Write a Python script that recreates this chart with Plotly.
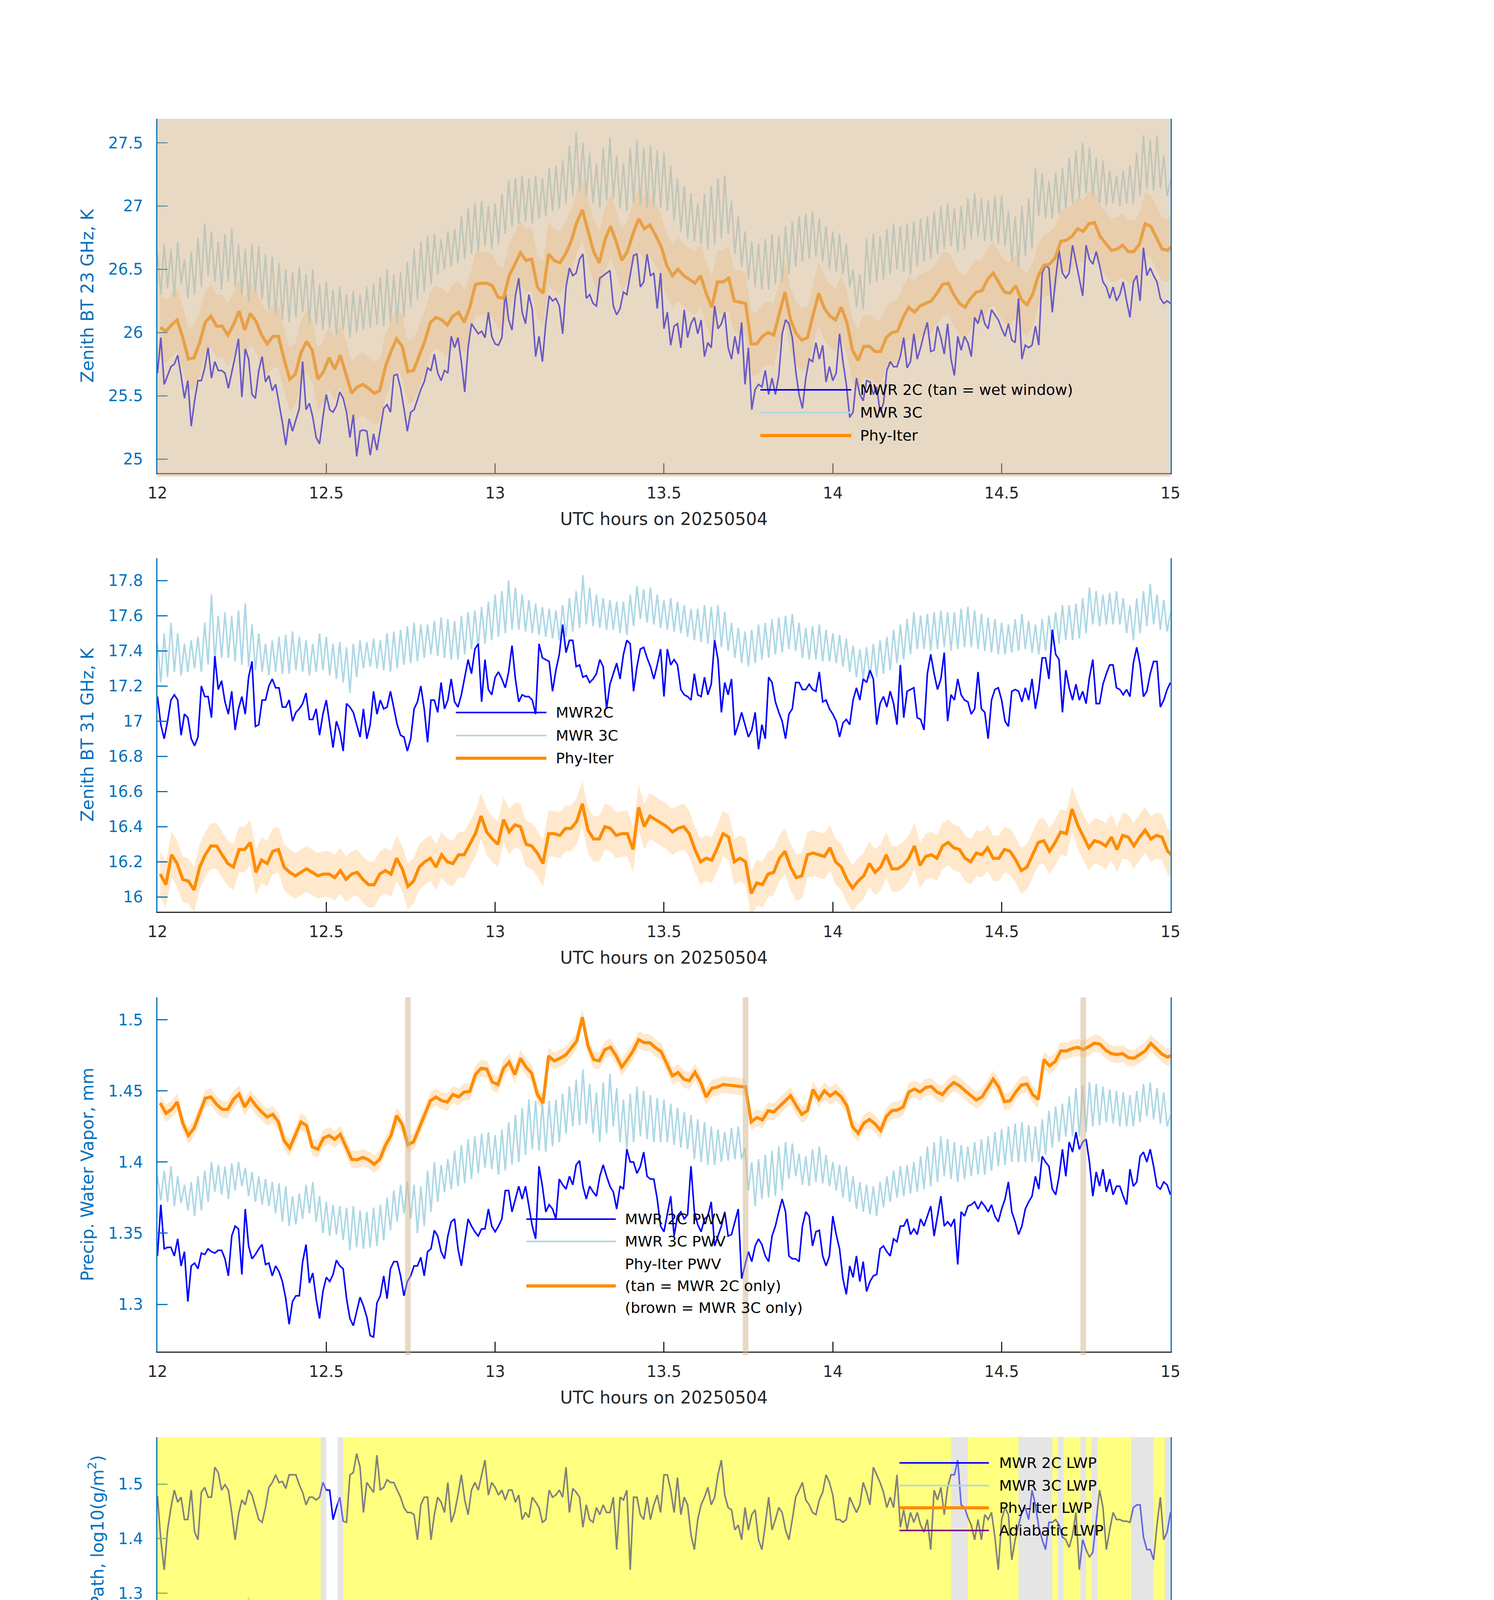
import numpy as np
import plotly.graph_objects as go

# ---------------------------------------------------------------------------
# MWR 2C / MWR 3C against the Phy-Iter retrieval, 2025-05-04, 12-15 UTC.
# Five stacked panels: 23 GHz BT, 31 GHz BT, PWV, log10 LWP and the Phy-Iter
# data-quality flag. Overlays (tan / yellow / grey) come from the DQ record.
# ---------------------------------------------------------------------------

T_START = 12.0        # UTC hours
MWR_STEP = 0.01       # MWR 2C / 3C sample spacing, hours (36 s)
PHY_STEP = 1 / 60     # Phy-Iter retrieval spacing, hours (centred on half minute)

X_TICKS = [12, 12.5, 13, 13.5, 14, 14.5, 15]
X_TICK_TEXT = ["12", "12.5", "13", "13.5", "14", "14.5", "15"]

# --- panel 1: zenith BT 23 GHz, K -------------------------------------------
BT23_2C = [
    25.68, 25.96, 25.59, 25.66, 25.73, 25.75, 25.82, 25.66, 25.48, 25.62, 25.26, 25.46,
    25.62, 25.62, 25.72, 25.88, 25.64, 25.77, 25.70, 25.70, 25.68, 25.56, 25.68, 25.81,
    25.95, 25.49, 25.87, 25.79, 25.51, 25.48, 25.70, 25.81, 25.61, 25.66, 25.54,
    25.59, 25.44, 25.29, 25.11, 25.32, 25.22, 25.31, 25.40, 25.77, 25.39, 25.44, 25.33,
    25.17, 25.12, 25.33, 25.51, 25.39, 25.37, 25.42, 25.53, 25.48, 25.37, 25.17,
    25.35, 25.02, 25.22, 25.23, 25.22, 25.03, 25.20, 25.07, 25.24, 25.40, 25.43, 25.37,
    25.66, 25.67, 25.56, 25.40, 25.22, 25.37, 25.39, 25.47, 25.55, 25.61, 25.72,
    25.70, 25.83, 25.68, 25.62, 25.70, 25.68, 25.97, 25.88, 25.96, 25.77, 25.53, 25.88,
    26.07, 26.03, 25.99, 26.01, 25.96, 26.16, 25.97, 25.91, 25.90, 25.96, 26.32,
    26.10, 26.02, 26.29, 26.43, 26.16, 26.07, 26.30, 26.18, 25.81, 25.97, 25.77, 26.07,
    26.29, 26.25, 26.27, 26.21, 25.99, 26.36, 26.51, 26.45, 26.47, 26.58, 26.62,
    26.27, 26.30, 26.23, 26.21, 26.43, 26.45, 26.47, 26.49, 26.21, 26.14, 26.19, 26.32,
    26.30, 26.45, 26.61, 26.62, 26.36, 26.40, 26.62, 26.45, 26.47, 26.19, 26.47,
    26.03, 26.16, 25.90, 26.05, 26.07, 25.88, 26.18, 25.96, 26.07, 26.12, 25.99, 26.10,
    25.81, 25.92, 25.88, 26.21, 26.03, 26.07, 26.16, 25.88, 25.79, 25.97, 25.83,
    26.08, 25.59, 25.88, 25.39, 25.55, 25.59, 25.57, 25.70, 25.51, 25.64, 25.51, 25.66,
    25.99, 26.10, 26.07, 25.96, 25.70, 25.51, 25.40, 25.64, 25.79, 25.77, 25.92,
    25.79, 25.90, 25.61, 25.73, 25.62, 25.68, 25.99, 25.77, 25.59, 25.33, 25.37, 25.64,
    25.51, 25.46, 25.62, 25.61, 25.51, 25.57, 25.37, 25.44, 25.70, 25.77, 25.73,
    25.73, 25.81, 25.96, 25.72, 25.77, 25.99, 25.79, 25.88, 25.99, 26.08, 25.85, 25.86,
    26.05, 25.96, 25.83, 26.07, 25.79, 25.66, 25.97, 25.86, 25.97, 25.92, 25.81,
    26.12, 26.07, 26.18, 26.07, 26.03, 26.18, 26.14, 26.10, 26.03, 25.97, 26.07, 25.94,
    25.92, 26.27, 25.79, 25.90, 25.88, 25.90, 26.05, 25.90, 26.47, 26.53, 26.51,
    26.16, 26.43, 26.65, 26.47, 26.43, 26.47, 26.69, 26.56, 26.43, 26.29, 26.69, 26.58,
    26.54, 26.64, 26.53, 26.40, 26.36, 26.27, 26.36, 26.25, 26.30, 26.40, 26.25,
    26.12, 26.40, 26.45, 26.25, 26.67, 26.45, 26.51, 26.45, 26.40, 26.27, 26.23, 26.25,
    26.23,
]
BT23_3C = [
    26.62, 26.30, 26.70, 26.35, 26.66, 26.28, 26.72, 26.38, 26.58, 26.27,
    26.64, 26.30, 26.75, 26.36, 26.86, 26.45, 26.80, 26.40, 26.72, 26.34,
    26.78, 26.40, 26.82, 26.36, 26.70, 26.30, 26.66, 26.24, 26.70, 26.32,
    26.68, 26.26, 26.62, 26.18, 26.60, 26.14, 26.55, 26.10, 26.50, 26.08,
    26.48, 26.12, 26.52, 26.16, 26.46, 26.08, 26.50, 26.06, 26.38, 26.02,
    26.40, 26.04, 26.34, 25.98, 26.36, 26.02, 26.30, 25.96, 26.33, 26.00,
    26.30, 26.02, 26.36, 26.04, 26.38, 26.06, 26.44, 26.05, 26.50, 26.08,
    26.46, 26.08, 26.48, 26.12, 26.56, 26.20, 26.66, 26.26, 26.72, 26.32,
    26.76, 26.38, 26.78, 26.46, 26.74, 26.50, 26.80, 26.52, 26.82, 26.55,
    26.92, 26.58, 26.98, 26.62, 27.02, 26.64, 27.04, 26.68, 27.00, 26.66,
    27.02, 26.70, 27.10, 26.78, 27.20, 26.84, 27.22, 26.86, 27.24, 26.88,
    27.22, 26.86, 27.24, 26.90, 27.22, 26.92, 27.30, 26.96, 27.32, 26.98,
    27.36, 27.02, 27.48, 27.08, 27.58, 27.12, 27.50, 27.08, 27.42, 27.02,
    27.34, 26.98, 27.46, 27.04, 27.54, 27.06, 27.40, 26.98, 27.34, 26.96,
    27.46, 27.02, 27.52, 27.00, 27.46, 26.98, 27.48, 27.00, 27.44, 26.98,
    27.42, 26.96, 27.32, 26.88, 27.22, 26.80, 27.16, 26.74, 27.10, 26.72,
    27.02, 26.70, 27.10, 26.66, 27.16, 26.70, 27.22, 26.74, 27.24, 26.78,
    27.04, 26.62, 26.92, 26.52, 26.80, 26.42, 26.72, 26.36, 26.70, 26.34,
    26.74, 26.34, 26.78, 26.38, 26.76, 26.40, 26.84, 26.46, 26.88, 26.52,
    26.92, 26.56, 26.94, 26.58, 26.96, 26.60, 26.90, 26.56, 26.84, 26.50,
    26.80, 26.48, 26.78, 26.46, 26.70, 26.36, 26.50, 26.20, 26.46, 26.18,
    26.74, 26.38, 26.78, 26.40, 26.76, 26.42, 26.82, 26.46, 26.86, 26.50,
    26.84, 26.48, 26.86, 26.46, 26.88, 26.52, 26.90, 26.56, 26.92, 26.58,
    26.96, 26.62, 27.00, 26.66, 27.02, 26.68, 26.98, 26.64, 27.00, 26.66,
    27.06, 26.74, 27.10, 26.76, 27.06, 26.72, 27.04, 26.72, 27.08, 26.70,
    27.08, 26.68, 26.96, 26.56, 26.92, 26.52, 27.00, 26.60, 27.06, 26.66,
    27.30, 26.92, 27.26, 26.90, 27.20, 26.90, 27.26, 26.94, 27.30, 26.98,
    27.38, 27.02, 27.44, 27.06, 27.50, 27.10, 27.46, 27.08, 27.38, 27.02,
    27.36, 27.00, 27.28, 27.02, 27.24, 27.00, 27.28, 27.02, 27.32, 27.02,
    27.42, 27.08, 27.56, 27.14, 27.52, 27.12, 27.56, 27.14, 27.40, 27.08,
    27.20,
]
BT23_PHY = [
    26.04, 26.01, 26.06, 26.10, 25.96, 25.79, 25.80, 25.92, 26.08, 26.13,
    26.05, 26.05, 25.98, 26.06, 26.17, 26.02, 26.15, 26.09, 25.98, 25.91,
    25.97, 25.97, 25.79, 25.63, 25.67, 25.84, 25.93, 25.86, 25.63, 25.69,
    25.80, 25.71, 25.82, 25.68, 25.52, 25.57, 25.59, 25.56, 25.52, 25.54,
    25.73, 25.85, 25.95, 25.89, 25.69, 25.70, 25.81, 25.93, 26.08, 26.12,
    26.10, 26.06, 26.13, 26.16, 26.08, 26.20, 26.38, 26.39, 26.39, 26.37,
    26.28, 26.27, 26.45, 26.54, 26.63, 26.57, 26.58, 26.36, 26.31, 26.62,
    26.57, 26.55, 26.62, 26.72, 26.87, 26.97, 26.80, 26.64, 26.55, 26.73,
    26.84, 26.72, 26.57, 26.64, 26.78, 26.90, 26.82, 26.85, 26.77, 26.68,
    26.53, 26.45, 26.50, 26.45, 26.42, 26.39, 26.45, 26.31, 26.20, 26.40,
    26.40, 26.43, 26.25, 26.24, 26.23, 25.91, 25.91, 25.97, 26.00, 25.98,
    26.16, 26.32, 26.10, 25.99, 25.94, 25.96, 26.14, 26.31, 26.19, 26.13,
    26.10, 26.20, 26.08, 25.86, 25.78, 25.89, 25.89, 25.85, 25.85, 25.96,
    26.00, 26.01, 26.12, 26.20, 26.16, 26.21, 26.23, 26.25, 26.31, 26.38,
    26.39, 26.30, 26.23, 26.20, 26.27, 26.32, 26.33, 26.42, 26.47, 26.39,
    26.32, 26.31, 26.37, 26.26, 26.22, 26.30, 26.45, 26.53, 26.54, 26.59,
    26.72, 26.73, 26.76, 26.82, 26.80, 26.86, 26.87, 26.76, 26.70, 26.65,
    26.66, 26.69, 26.64, 26.64, 26.70, 26.86, 26.84, 26.75, 26.66, 26.65,
    26.69,
]
BT23_PHY_UNC = 0.25

# --- panel 2: zenith BT 31 GHz, K -------------------------------------------
BT31_2C = [
    17.14, 16.98, 16.90, 17.00, 17.12, 17.15, 17.12, 16.92, 17.04, 17.02, 16.90, 16.86,
    16.91, 17.20, 17.14, 17.14, 17.02, 17.37, 17.18, 17.23, 17.11, 17.04, 17.17, 16.95,
    17.07, 17.14, 17.04, 17.25, 17.34, 16.97, 16.98, 17.12, 17.12, 17.20, 17.24, 17.19,
    17.19, 17.08, 17.08, 17.12, 17.00, 17.05, 17.07, 17.10, 17.16, 17.01, 17.01, 17.07,
    16.92, 17.04, 17.12, 16.98, 16.85, 17.00, 16.94, 16.83, 17.10, 17.08, 17.05, 16.98,
    16.91, 17.07, 16.90, 16.98, 17.17, 17.04, 17.12, 17.07, 17.08, 17.17, 17.08, 16.98,
    16.92, 16.91, 16.83, 16.90, 17.07, 17.11, 17.20, 17.07, 16.88, 17.12, 17.12, 17.05,
    17.22, 17.07, 17.12, 17.24, 17.11, 17.08, 17.15, 17.25, 17.35, 17.27, 17.41, 17.44,
    17.11, 17.35, 17.18, 17.15, 17.25, 17.28, 17.24, 17.19, 17.28, 17.43, 17.24, 17.11,
    17.15, 17.14, 17.14, 17.12, 17.04, 17.44, 17.36, 17.35, 17.34, 17.17, 17.29, 17.38,
    17.55, 17.39, 17.46, 17.46, 17.31, 17.32, 17.25, 17.26, 17.22, 17.24, 17.27, 17.35,
    17.31, 17.07, 17.21, 17.27, 17.33, 17.24, 17.38, 17.46, 17.44, 17.17, 17.31, 17.41,
    17.42, 17.36, 17.31, 17.24, 17.32, 17.41, 17.14, 17.41, 17.32, 17.35, 17.32, 17.18,
    17.15, 17.14, 17.12, 17.27, 17.15, 17.14, 17.25, 17.15, 17.21, 17.46, 17.35, 17.05,
    17.22, 17.15, 17.24, 16.92, 16.98, 17.05, 16.98, 16.91, 16.95, 17.05, 16.84, 16.98,
    16.90, 17.25, 17.22, 17.11, 17.05, 17.00, 16.90, 17.04, 17.07, 17.22, 17.22, 17.18,
    17.18, 17.21, 17.18, 17.17, 17.28, 17.11, 17.12, 17.07, 17.04, 17.00, 16.91, 16.99,
    17.01, 16.98, 17.12, 17.19, 17.12, 17.24, 17.22, 17.29, 17.24, 16.98, 17.10, 17.14,
    17.08, 17.17, 17.10, 16.98, 17.32, 17.02, 17.17, 17.18, 17.19, 17.02, 17.01, 16.95,
    17.27, 17.38, 17.27, 17.18, 17.24, 17.39, 17.00, 17.15, 17.12, 17.24, 17.15, 17.12,
    17.11, 17.04, 17.07, 17.28, 17.07, 17.05, 16.90, 17.12, 17.18, 17.19, 17.12, 17.00,
    16.97, 17.17, 17.18, 17.17, 17.11, 17.19, 17.12, 17.24, 17.07, 17.18, 17.36, 17.36,
    17.24, 17.52, 17.38, 17.35, 17.05, 17.29, 17.19, 17.12, 17.21, 17.12, 17.17, 17.10,
    17.25, 17.35, 17.10, 17.10, 17.21, 17.27, 17.32, 17.32, 17.19, 17.18, 17.15, 17.18,
    17.14, 17.33, 17.42, 17.32, 17.14, 17.17, 17.27, 17.34, 17.34, 17.08, 17.12, 17.18,
    17.22,
]
BT31_3C = [
    17.44, 17.22, 17.50, 17.25, 17.56, 17.28, 17.50, 17.26, 17.44, 17.28,
    17.46, 17.30, 17.48, 17.28, 17.56, 17.32, 17.72, 17.34, 17.60, 17.36,
    17.62, 17.36, 17.60, 17.34, 17.63, 17.32, 17.67, 17.31, 17.55, 17.29,
    17.50, 17.28, 17.44, 17.26, 17.46, 17.28, 17.48, 17.27, 17.49, 17.27,
    17.51, 17.29, 17.48, 17.28, 17.46, 17.26, 17.44, 17.28, 17.50, 17.29,
    17.48, 17.26, 17.44, 17.24, 17.45, 17.22, 17.42, 17.16, 17.44, 17.25,
    17.46, 17.30, 17.45, 17.31, 17.47, 17.30, 17.46, 17.29, 17.50, 17.28,
    17.51, 17.30, 17.52, 17.32, 17.54, 17.33, 17.56, 17.34, 17.55, 17.36,
    17.55, 17.38, 17.57, 17.37, 17.59, 17.36, 17.58, 17.35, 17.57, 17.35,
    17.60, 17.38, 17.62, 17.41, 17.63, 17.42, 17.65, 17.44, 17.68, 17.46,
    17.72, 17.48, 17.74, 17.50, 17.80, 17.52, 17.76, 17.52, 17.72, 17.51,
    17.69, 17.50, 17.67, 17.49, 17.65, 17.48, 17.64, 17.47, 17.63, 17.46,
    17.66, 17.48, 17.70, 17.51, 17.74, 17.53, 17.83, 17.55, 17.76, 17.54,
    17.72, 17.53, 17.70, 17.52, 17.69, 17.52, 17.68, 17.50, 17.68, 17.49,
    17.72, 17.54, 17.77, 17.58, 17.75, 17.56, 17.76, 17.55, 17.72, 17.53,
    17.69, 17.52, 17.70, 17.51, 17.68, 17.50, 17.66, 17.48, 17.64, 17.46,
    17.64, 17.45, 17.66, 17.44, 17.65, 17.43, 17.66, 17.42, 17.62, 17.40,
    17.56, 17.36, 17.53, 17.33, 17.51, 17.31, 17.52, 17.33, 17.55, 17.35,
    17.56, 17.36, 17.58, 17.38, 17.59, 17.39, 17.60, 17.41, 17.61, 17.40,
    17.56, 17.36, 17.53, 17.35, 17.54, 17.35, 17.55, 17.34, 17.52, 17.34,
    17.50, 17.33, 17.49, 17.31, 17.47, 17.28, 17.43, 17.25, 17.41, 17.24,
    17.42, 17.24, 17.44, 17.25, 17.46, 17.27, 17.48, 17.29, 17.52, 17.33,
    17.55, 17.35, 17.58, 17.38, 17.62, 17.41, 17.60, 17.41, 17.61, 17.40,
    17.62, 17.41, 17.63, 17.42, 17.62, 17.40, 17.62, 17.41, 17.64, 17.42,
    17.65, 17.42, 17.63, 17.41, 17.61, 17.40, 17.59, 17.39, 17.58, 17.38,
    17.56, 17.38, 17.55, 17.39, 17.58, 17.40, 17.61, 17.41, 17.57, 17.39,
    17.55, 17.38, 17.58, 17.40, 17.60, 17.43, 17.62, 17.44, 17.66, 17.46,
    17.66, 17.46, 17.67, 17.47, 17.70, 17.50, 17.76, 17.55, 17.74, 17.54,
    17.72, 17.55, 17.73, 17.55, 17.74, 17.55, 17.70, 17.50, 17.66, 17.46,
    17.70, 17.50, 17.74, 17.54, 17.78, 17.55, 17.72, 17.52, 17.69, 17.51,
    17.62,
]
BT31_PHY = [
    16.13, 16.07, 16.24, 16.19, 16.10, 16.09, 16.04, 16.17, 16.24, 16.29,
    16.29, 16.24, 16.19, 16.17, 16.27, 16.27, 16.31, 16.14, 16.21, 16.19,
    16.26, 16.27, 16.17, 16.14, 16.12, 16.14, 16.16, 16.14, 16.12, 16.13,
    16.13, 16.11, 16.15, 16.10, 16.13, 16.14, 16.10, 16.07, 16.07, 16.13,
    16.15, 16.13, 16.22, 16.16, 16.06, 16.09, 16.17, 16.20, 16.22, 16.17,
    16.24, 16.20, 16.19, 16.24, 16.24, 16.30, 16.36, 16.46, 16.37, 16.33,
    16.30, 16.44, 16.37, 16.41, 16.40, 16.30, 16.29, 16.25, 16.19, 16.36,
    16.36, 16.35, 16.39, 16.39, 16.43, 16.53, 16.38, 16.33, 16.33, 16.40,
    16.39, 16.35, 16.36, 16.36, 16.27, 16.51, 16.40, 16.46, 16.44, 16.42,
    16.40, 16.37, 16.39, 16.40, 16.36, 16.27, 16.20, 16.22, 16.21, 16.28,
    16.36, 16.34, 16.20, 16.22, 16.20, 16.02, 16.08, 16.07, 16.13, 16.14,
    16.22, 16.26, 16.17, 16.11, 16.12, 16.24, 16.25, 16.24, 16.23, 16.28,
    16.20, 16.17, 16.10, 16.05, 16.09, 16.12, 16.19, 16.14, 16.17, 16.24,
    16.16, 16.16, 16.18, 16.22, 16.29, 16.18, 16.23, 16.24, 16.22, 16.29,
    16.31, 16.28, 16.27, 16.22, 16.20, 16.25, 16.24, 16.28, 16.22, 16.22,
    16.27, 16.26, 16.21, 16.15, 16.17, 16.24, 16.31, 16.32, 16.26, 16.31,
    16.37, 16.36, 16.50, 16.41, 16.34, 16.28, 16.32, 16.31, 16.29, 16.34,
    16.27, 16.35, 16.34, 16.29, 16.34, 16.38, 16.33, 16.35, 16.34, 16.26,
    16.23,
]
BT31_PHY_UNC = 0.13

# --- panel 3: precipitable water vapour, mm ---------------------------------
PWV_2C = [
    1.334, 1.370, 1.339, 1.340, 1.340, 1.334, 1.346, 1.327, 1.337, 1.302, 1.327, 1.329,
    1.325, 1.336, 1.335, 1.339, 1.337, 1.336, 1.338, 1.338, 1.332, 1.320, 1.348, 1.355,
    1.353, 1.321, 1.367, 1.341, 1.332, 1.335, 1.339, 1.342, 1.328, 1.329, 1.320, 1.327,
    1.323, 1.316, 1.304, 1.286, 1.302, 1.306, 1.306, 1.330, 1.342, 1.315, 1.322, 1.304,
    1.290, 1.309, 1.319, 1.316, 1.321, 1.331, 1.327, 1.325, 1.304, 1.290, 1.285, 1.295,
    1.305, 1.299, 1.291, 1.278, 1.277, 1.301, 1.306, 1.320, 1.304, 1.325, 1.330, 1.330,
    1.320, 1.306, 1.316, 1.320, 1.327, 1.327, 1.333, 1.320, 1.337, 1.339, 1.352, 1.348,
    1.337, 1.332, 1.348, 1.358, 1.360, 1.339, 1.327, 1.344, 1.360, 1.355, 1.351, 1.348,
    1.353, 1.353, 1.367, 1.355, 1.351, 1.355, 1.360, 1.380, 1.380, 1.365, 1.374, 1.383,
    1.374, 1.383, 1.369, 1.355, 1.346, 1.397, 1.383, 1.365, 1.370, 1.367, 1.360, 1.388,
    1.384, 1.381, 1.390, 1.384, 1.398, 1.401, 1.383, 1.374, 1.383, 1.379, 1.376, 1.390,
    1.398, 1.390, 1.383, 1.379, 1.367, 1.383, 1.381, 1.409, 1.400, 1.400, 1.392, 1.397,
    1.407, 1.390, 1.388, 1.388, 1.374, 1.355, 1.351, 1.363, 1.376, 1.348, 1.362, 1.365,
    1.360, 1.363, 1.397, 1.365, 1.356, 1.351, 1.360, 1.362, 1.372, 1.341, 1.348, 1.355,
    1.365, 1.348, 1.349, 1.358, 1.367, 1.318, 1.327, 1.337, 1.330, 1.341, 1.346, 1.342,
    1.334, 1.330, 1.348, 1.355, 1.365, 1.374, 1.365, 1.334, 1.332, 1.332, 1.330, 1.355,
    1.365, 1.362, 1.341, 1.351, 1.352, 1.334, 1.327, 1.334, 1.362, 1.349, 1.339, 1.318,
    1.307, 1.327, 1.319, 1.334, 1.316, 1.330, 1.309, 1.316, 1.320, 1.321, 1.339, 1.341,
    1.337, 1.334, 1.346, 1.344, 1.355, 1.355, 1.360, 1.349, 1.353, 1.349, 1.360, 1.355,
    1.362, 1.369, 1.348, 1.362, 1.376, 1.355, 1.358, 1.355, 1.360, 1.328, 1.365, 1.362,
    1.369, 1.370, 1.372, 1.367, 1.372, 1.369, 1.365, 1.370, 1.362, 1.358, 1.367, 1.374,
    1.386, 1.365, 1.358, 1.349, 1.355, 1.367, 1.372, 1.376, 1.390, 1.381, 1.404, 1.400,
    1.397, 1.381, 1.377, 1.390, 1.409, 1.390, 1.414, 1.407, 1.421, 1.409, 1.414, 1.416,
    1.400, 1.376, 1.393, 1.383, 1.395, 1.379, 1.388, 1.377, 1.383, 1.383, 1.376, 1.370,
    1.395, 1.383, 1.386, 1.404, 1.407, 1.400, 1.409, 1.397, 1.383, 1.381, 1.386, 1.384,
    1.377,
]
PWV_3C = [
    1.390, 1.373, 1.394, 1.372, 1.397, 1.369, 1.390, 1.371, 1.384, 1.366,
    1.386, 1.362, 1.390, 1.366, 1.394, 1.372, 1.400, 1.379, 1.398, 1.377,
    1.397, 1.374, 1.399, 1.380, 1.400, 1.383, 1.396, 1.376, 1.393, 1.372,
    1.390, 1.370, 1.388, 1.369, 1.386, 1.364, 1.385, 1.358, 1.383, 1.355,
    1.376, 1.356, 1.378, 1.360, 1.384, 1.364, 1.386, 1.358, 1.376, 1.350,
    1.372, 1.348, 1.370, 1.349, 1.369, 1.345, 1.368, 1.338, 1.369, 1.340,
    1.366, 1.339, 1.365, 1.340, 1.368, 1.341, 1.370, 1.345, 1.375, 1.352,
    1.380, 1.358, 1.384, 1.364, 1.386, 1.360, 1.384, 1.350, 1.383, 1.355,
    1.394, 1.365, 1.400, 1.372, 1.398, 1.379, 1.402, 1.381, 1.408, 1.383,
    1.412, 1.385, 1.416, 1.388, 1.418, 1.392, 1.420, 1.396, 1.421, 1.395,
    1.419, 1.391, 1.423, 1.394, 1.428, 1.398, 1.433, 1.400, 1.438, 1.405,
    1.444, 1.409, 1.443, 1.408, 1.442, 1.407, 1.443, 1.411, 1.444, 1.414,
    1.448, 1.420, 1.453, 1.425, 1.458, 1.426, 1.465, 1.427, 1.455, 1.420,
    1.449, 1.414, 1.456, 1.420, 1.462, 1.425, 1.452, 1.414, 1.444, 1.409,
    1.448, 1.414, 1.453, 1.418, 1.450, 1.416, 1.447, 1.414, 1.445, 1.414,
    1.444, 1.414, 1.441, 1.412, 1.438, 1.410, 1.435, 1.409, 1.433, 1.402,
    1.430, 1.400, 1.428, 1.398, 1.425, 1.398, 1.423, 1.400, 1.421, 1.401,
    1.424, 1.402, 1.425, 1.402, 1.410, 1.380, 1.400, 1.369, 1.402, 1.374,
    1.405, 1.375, 1.408, 1.376, 1.411, 1.380, 1.414, 1.388, 1.413, 1.390,
    1.406, 1.384, 1.404, 1.383, 1.409, 1.386, 1.411, 1.385, 1.405, 1.383,
    1.400, 1.380, 1.398, 1.375, 1.397, 1.372, 1.390, 1.367, 1.386, 1.365,
    1.384, 1.363, 1.383, 1.362, 1.386, 1.368, 1.390, 1.372, 1.394, 1.375,
    1.397, 1.376, 1.398, 1.378, 1.400, 1.379, 1.404, 1.381, 1.411, 1.383,
    1.414, 1.386, 1.418, 1.390, 1.416, 1.388, 1.414, 1.386, 1.412, 1.388,
    1.411, 1.390, 1.414, 1.391, 1.416, 1.391, 1.418, 1.394, 1.421, 1.397,
    1.423, 1.398, 1.425, 1.400, 1.427, 1.400, 1.428, 1.400, 1.426, 1.400,
    1.425, 1.400, 1.430, 1.405, 1.436, 1.410, 1.439, 1.414, 1.441, 1.418,
    1.446, 1.418, 1.452, 1.418, 1.454, 1.421, 1.456, 1.425, 1.455, 1.426,
    1.453, 1.428, 1.451, 1.427, 1.450, 1.425, 1.449, 1.425, 1.447, 1.425,
    1.450, 1.428, 1.455, 1.432, 1.456, 1.430, 1.452, 1.427, 1.449, 1.425,
    1.433,
]
PWV_PHY = [
    1.4414, 1.4343, 1.4370, 1.4422, 1.4273, 1.4186, 1.4238, 1.4343, 1.4448, 1.4457,
    1.4405, 1.4370, 1.4370, 1.4440, 1.4478, 1.4387, 1.4448, 1.4396, 1.4352, 1.4317,
    1.4335, 1.4282, 1.4151, 1.4098, 1.4186, 1.4282, 1.4256, 1.4107, 1.4090, 1.4168,
    1.4186, 1.4160, 1.4195, 1.4107, 1.4019, 1.4016, 1.4033, 1.4016, 1.3984, 1.4019,
    1.4116, 1.4186, 1.4326, 1.4264, 1.4121, 1.4142, 1.4238, 1.4335, 1.4431, 1.4457,
    1.4431, 1.4422, 1.4475, 1.4457, 1.4492, 1.4496, 1.4615, 1.4659, 1.4654, 1.4562,
    1.4545, 1.4659, 1.4702, 1.4615, 1.4729, 1.4667, 1.4624, 1.4475, 1.4414, 1.4746,
    1.4711, 1.4729, 1.4751, 1.4799, 1.4851, 1.5017, 1.4816, 1.4720, 1.4711, 1.4790,
    1.4807, 1.4746, 1.4667, 1.4720, 1.4781, 1.4860, 1.4839, 1.4839, 1.4803, 1.4776,
    1.4694, 1.4606, 1.4629, 1.4583, 1.4571, 1.4632, 1.4562, 1.4457, 1.4518, 1.4527,
    1.4545, 1.4541, 1.4536, 1.4531, 1.4527, 1.4282, 1.4313, 1.4296, 1.4361, 1.4352,
    1.4391, 1.4431, 1.4466, 1.4396, 1.4335, 1.4361, 1.4510, 1.4440, 1.4501, 1.4464,
    1.4492, 1.4457, 1.4396, 1.4247, 1.4203, 1.4273, 1.4299, 1.4268, 1.4221, 1.4320,
    1.4361, 1.4366, 1.4387, 1.4492, 1.4513, 1.4492, 1.4524, 1.4531, 1.4492, 1.4475,
    1.4524, 1.4559, 1.4536, 1.4501, 1.4466, 1.4436, 1.4457, 1.4518, 1.4583, 1.4527,
    1.4424, 1.4431, 1.4492, 1.4541, 1.4548, 1.4475, 1.4440, 1.4720, 1.4676, 1.4706,
    1.4781, 1.4781, 1.4797, 1.4807, 1.4790, 1.4811, 1.4836, 1.4828, 1.4786, 1.4762,
    1.4755, 1.4762, 1.4734, 1.4729, 1.4755, 1.4781, 1.4834, 1.4799, 1.4758, 1.4737,
    1.4755,
]
PWV_PHY_UNC = 0.006
TWO_C_ONLY_H = [12.7417, 13.7417, 14.7417]   # Phy-Iter minutes run on MWR 2C only

# --- panel 4: log10 liquid water path ---------------------------------------
LWP_2C = [
    1.478, 1.398, 1.343, 1.416, 1.457, 1.489, 1.467, 1.476, 1.435, 1.435, 1.489, 1.412,
    1.398, 1.485, 1.494, 1.476, 1.476, 1.531, 1.521, 1.489, 1.499, 1.489, 1.448, 1.398,
    1.444, 1.471, 1.462, 1.489, 1.480, 1.457, 1.435, 1.430, 1.457, 1.494, 1.503, 1.517,
    1.503, 1.505, 1.492, 1.517, 1.517, 1.517, 1.499, 1.485, 1.462, 1.476, 1.476, 1.471,
    1.476, 1.503, 1.489, 1.489, 1.435, 1.457, 1.476, 1.432, 1.430, 1.517, 1.521, 1.556,
    1.531, 1.448, 1.503, 1.494, 1.485, 1.553, 1.489, 1.494, 1.508, 1.503, 1.503, 1.489,
    1.476, 1.457, 1.448, 1.448, 1.444, 1.398, 1.462, 1.476, 1.476, 1.398, 1.444, 1.476,
    1.467, 1.448, 1.503, 1.430, 1.448, 1.480, 1.517, 1.471, 1.444, 1.489, 1.503, 1.489,
    1.517, 1.544, 1.480, 1.503, 1.494, 1.480, 1.489, 1.471, 1.489, 1.489, 1.467, 1.480,
    1.435, 1.448, 1.439, 1.476, 1.467, 1.457, 1.430, 1.435, 1.489, 1.476, 1.480, 1.489,
    1.476, 1.531, 1.448, 1.492, 1.485, 1.476, 1.421, 1.462, 1.435, 1.430, 1.457, 1.444,
    1.462, 1.448, 1.448, 1.476, 1.380, 1.476, 1.471, 1.489, 1.343, 1.476, 1.476, 1.444,
    1.435, 1.476, 1.435, 1.462, 1.480, 1.448, 1.517, 1.517, 1.489, 1.448, 1.512, 1.444,
    1.476, 1.462, 1.407, 1.380, 1.435, 1.462, 1.476, 1.494, 1.462, 1.476, 1.517, 1.544,
    1.480, 1.457, 1.453, 1.416, 1.425, 1.398, 1.457, 1.416, 1.444, 1.453, 1.398, 1.380,
    1.425, 1.476, 1.416, 1.435, 1.457, 1.448, 1.416, 1.398, 1.435, 1.476, 1.489, 1.503,
    1.471, 1.462, 1.448, 1.444, 1.471, 1.485, 1.517, 1.503, 1.480, 1.435, 1.435, 1.430,
    1.435, 1.476, 1.462, 1.448, 1.462, 1.503, 1.485, 1.462, 1.531, 1.517, 1.503, 1.485,
    1.457, 1.476, 1.457, 1.517, 1.421, 1.453, 1.416, 1.448, 1.430, 1.448, 1.425, 1.412,
    1.435, 1.380, 1.489, 1.471, 1.494, 1.444, 1.494, 1.517, 1.517, 1.544, 1.462, 1.457,
    1.439, 1.425, 1.398, 1.435, 1.398, 1.444, 1.435, 1.448, 1.403, 1.343, 1.435, 1.457,
    1.444, 1.361, 1.398, 1.425, 1.448, 1.457, 1.435, 1.489, 1.462, 1.421, 1.398, 1.380,
    1.430, 1.430, 1.435, 1.425, 1.403, 1.398, 1.384, 1.407, 1.448, 1.343, 1.398, 1.380,
    1.366, 1.375, 1.435, 1.489, 1.457, 1.380, 1.416, 1.448, 1.435, 1.435, 1.432, 1.432,
    1.430, 1.457, 1.462, 1.462, 1.403, 1.380, 1.380, 1.361, 1.425, 1.476, 1.398, 1.412,
    1.448,
]
LWP_3C = [
    1.200, 1.130, 1.215, 1.140, 1.240, 1.150, 1.232, 1.138, 1.225, 1.101,
    1.220, 1.145, 1.218, 1.152, 1.236, 1.158, 1.250, 1.162, 1.238, 1.155,
    1.224, 1.152, 1.235, 1.158, 1.243, 1.160, 1.255, 1.293, 1.243, 1.168,
    1.240, 1.160, 1.238, 1.152, 1.236, 1.156, 1.235, 1.160, 1.232, 1.162,
    1.234, 1.160, 1.230, 1.162, 1.228, 1.160, 1.230, 1.165, 1.238, 1.170,
    1.245, 1.180, 1.255, 1.195, 1.260, 1.190, 1.250, 1.172, 1.243, 1.170,
    1.236, 1.158, 1.234, 1.151, 1.225, 1.152, 1.220, 1.151, 1.218, 1.153,
    1.218, 1.152, 1.216, 1.151, 1.230, 1.180, 1.261, 1.197, 1.250, 1.185,
    1.244, 1.174, 1.240, 1.172, 1.236, 1.170, 1.234, 1.168, 1.235, 1.170,
    1.238, 1.170, 1.242, 1.170, 1.243, 1.172, 1.240, 1.174, 1.250, 1.185,
    1.258, 1.197, 1.262, 1.200, 1.288, 1.190, 1.243, 1.174, 1.232, 1.140,
    1.220, 1.115, 1.205, 1.110, 1.188, 1.106, 1.182, 1.095, 1.179, 1.033,
    1.184, 1.100, 1.188, 1.106, 1.192, 1.110, 1.197, 1.115, 1.202, 1.120,
    1.206, 1.124, 1.206, 1.124, 1.206, 1.124, 1.212, 1.126, 1.220, 1.128,
    1.212, 1.126, 1.206, 1.124, 1.210, 1.126, 1.215, 1.128, 1.218, 1.128,
    1.220, 1.128, 1.222, 1.134, 1.224, 1.142, 1.218, 1.130, 1.210, 1.115,
    1.200, 1.095, 1.192, 1.060, 1.188, 1.080, 1.182, 1.096, 1.179, 1.092,
    1.175, 1.085, 1.174, 1.083, 1.176, 1.106, 0.968, 1.110, 1.200, 1.128,
    1.220, 1.135, 1.224, 1.142, 1.222, 1.138, 1.220, 1.128, 1.210, 1.120,
    1.197, 1.115, 1.200, 1.120, 1.206, 1.128, 1.212, 1.134, 1.220, 1.142,
    1.208, 1.124, 1.197, 1.106, 1.190, 1.095, 1.179, 1.083, 1.175, 1.083,
    1.172, 1.083, 1.170, 1.083, 1.178, 1.095, 1.188, 1.106, 1.198, 1.112,
    1.206, 1.115, 1.213, 1.120, 1.220, 1.128, 1.222, 1.133, 1.224, 1.138,
    1.226, 1.138, 1.229, 1.138, 1.222, 1.130, 1.215, 1.124, 1.210, 1.124,
    1.206, 1.124, 1.206, 1.120, 1.206, 1.119, 1.200, 1.115, 1.197, 1.115,
    1.197, 1.110, 1.197, 1.106, 1.186, 1.095, 1.174, 1.083, 1.168, 1.070,
    1.160, 1.060, 1.165, 1.070, 1.170, 1.083, 1.174, 1.083, 1.178, 1.083,
    1.176, 1.076, 1.174, 1.069, 1.168, 1.065, 1.162, 1.060, 1.168, 1.072,
    1.174, 1.083, 1.186, 1.095, 1.200, 1.106, 1.195, 1.100, 1.188, 1.096,
    1.192, 1.090, 1.197, 1.083, 1.197, 1.100, 1.197, 1.106, 1.192, 1.115,
    1.188,
]

# --- panel 5: Phy-Iter DQ flag, one per retrieval minute --------------------
DQ_FLAG = [
    5, 5, 5, 5, 5, 5, 5, 5, 5, 5, 5, 5, 5, 5, 5, 5, 5, 5, 5, 5,
    5, 5, 5, 5, 5, 5, 5, 5, 5, 3, 0, 0, 4, 5, 5, 5, 5, 5, 5, 5,
    5, 5, 5, 5, 5, 5, 5, 5, 5, 5, 5, 5, 5, 5, 5, 5, 5, 5, 5, 5,
    5, 5, 5, 5, 5, 5, 5, 5, 5, 5, 5, 5, 5, 5, 5, 5, 5, 5, 5, 5,
    5, 5, 5, 5, 5, 5, 5, 5, 5, 5, 5, 5, 5, 5, 5, 5, 5, 5, 5, 5,
    5, 5, 5, 5, 5, 5, 5, 5, 5, 5, 5, 5, 5, 5, 5, 5, 5, 5, 5, 5,
    5, 5, 5, 5, 5, 5, 5, 5, 5, 5, 5, 5, 5, 5, 5, 5, 5, 5, 5, 5,
    5, 3, 3, 3, 5, 5, 5, 5, 5, 5, 5, 5, 5, 3, 3, 3, 3, 3, 3, 5,
    3, 5, 5, 5, 3, 5, 3, 5, 5, 5, 5, 5, 5, 3, 3, 3, 3, 5, 5, 3,
    3,
]

# --- layout (pixels of the 3825 x 6000 page) --------------------------------
FIG_W, FIG_H = 3825, 6000
PLOT_X = (375, 3003)
PANEL_Y = [(296, 1203), (1421, 2326), (2545, 3452), (3671, 4578), (4795, 5703)]
Y_RANGES = [(24.889, 27.69), (15.916, 17.927), (1.2668, 1.5158),
            (0.9366, 1.5862), (-0.498, 11.53)]
Y_TICKS = [
    [25, 25.5, 26, 26.5, 27, 27.5],
    [16, 16.2, 16.4, 16.6, 16.8, 17, 17.2, 17.4, 17.6, 17.8],
    [1.3, 1.35, 1.4, 1.45, 1.5],
    [1, 1.1, 1.2, 1.3, 1.4, 1.5],
    [0, 2, 4, 6, 8, 10],
]
Y_TICK_TEXT = [
    ["25", "25.5", "26", "26.5", "27", "27.5"],
    ["16", "16.2", "16.4", "16.6", "16.8", "17", "17.2", "17.4", "17.6", "17.8"],
    ["1.3", "1.35", "1.4", "1.45", "1.5"],
    ["1", "1.1", "1.2", "1.3", "1.4", "1.5"],
    ["0", "2", "4", "6", "8", "10"],
]
Y_TITLES = [
    "Zenith BT 23 GHz, K",
    "Zenith BT 31 GHz, K",
    "Precip. Water Vapor, mm",
    "log10 Liquid Water Path, log10(g/m<sup>2</sup>)",
    "MWR Phy Iter DQ Flag",
]

FONT = "DejaVu Sans"
AX_BLUE = "#0072BD"
DARK = "#262626"
C_2C = "#0000FF"
C_3C = "#ADD8E6"
C_PHY = "#FF8C00"
C_ADIA = "#800080"
BAND = "rgba(255,140,0,0.2)"
TAN = "rgba(210,180,140,0.5)"
YELLOW = "rgba(255,255,0,0.5)"
GREY = "rgba(204,204,204,0.5)"


def mwr_time(vals):
    return T_START + MWR_STEP * np.arange(len(vals))


def phy_time(vals):
    return T_START + PHY_STEP * (np.arange(len(vals)) + 0.5)


def flag_runs(flags, wanted):
    """(first, last) index pairs of consecutive flags that are in `wanted`."""
    out, start = [], None
    for k, f in enumerate(list(flags) + [None]):
        if f in wanted and start is None:
            start = k
        elif f not in wanted and start is not None:
            out.append((start, k - 1))
            start = None
    return out


def ax(i):
    return ("x", "y") if i == 1 else (f"x{i}", f"y{i}")


fig = go.Figure()


def line(i, t, y, color, width):
    xa, ya = ax(i)
    fig.add_trace(go.Scatter(x=t, y=y, mode="lines", xaxis=xa, yaxis=ya,
                             line=dict(color=color, width=width),
                             hoverinfo="skip", showlegend=False))


def band(i, t, y, unc):
    xa, ya = ax(i)
    y = np.asarray(y)
    fig.add_trace(go.Scatter(x=t, y=y + unc, mode="lines", xaxis=xa, yaxis=ya,
                             line=dict(width=0), hoverinfo="skip", showlegend=False))
    fig.add_trace(go.Scatter(x=t, y=y - unc, mode="lines", xaxis=xa, yaxis=ya,
                             line=dict(width=0), fill="tonexty", fillcolor=BAND,
                             hoverinfo="skip", showlegend=False))


def cell_rect(i, x0, x1, color):
    xa, ya = ax(i)
    fig.add_shape(type="rect", xref=xa, yref=f"{ya} domain", x0=x0, x1=x1,
                  y0=-0.01, y1=1, fillcolor=color, line_width=0, layer="above")


t_phy = phy_time(DQ_FLAG)
half = PHY_STEP / 2

# panel 1
band(1, phy_time(BT23_PHY), BT23_PHY, BT23_PHY_UNC)
line(1, mwr_time(BT23_3C), BT23_3C, C_3C, 4)
line(1, mwr_time(BT23_2C), BT23_2C, C_2C, 4)
line(1, phy_time(BT23_PHY), BT23_PHY, C_PHY, 8)
cell_rect(1, t_phy[0] - half, t_phy[-1] + half, TAN)      # whole record is wet

# panel 2
band(2, phy_time(BT31_PHY), BT31_PHY, BT31_PHY_UNC)
line(2, mwr_time(BT31_3C), BT31_3C, C_3C, 4)
line(2, mwr_time(BT31_2C), BT31_2C, C_2C, 4)
line(2, phy_time(BT31_PHY), BT31_PHY, C_PHY, 8)

# panel 3
band(3, phy_time(PWV_PHY), PWV_PHY, PWV_PHY_UNC)
line(3, mwr_time(PWV_3C), PWV_3C, C_3C, 4)
line(3, mwr_time(PWV_2C), PWV_2C, C_2C, 4)
line(3, phy_time(PWV_PHY), PWV_PHY, C_PHY, 8)
for t in TWO_C_ONLY_H:
    cell_rect(3, t - half, t + half, TAN)

# panel 4
line(4, mwr_time(LWP_3C), LWP_3C, C_3C, 4)
line(4, mwr_time(LWP_2C), LWP_2C, C_2C, 4)
for s, e in flag_runs(DQ_FLAG, {5}):
    cell_rect(4, t_phy[s] - half, t_phy[e] + half, YELLOW)
for s, e in flag_runs(DQ_FLAG, {3, 4}):
    cell_rect(4, t_phy[s] - half, t_phy[e] + half, GREY)

# panel 5
fig.add_trace(go.Scatter(x=t_phy, y=DQ_FLAG, mode="markers", xaxis="x5", yaxis="y5",
                         marker=dict(color=C_PHY, size=8, line_width=0),
                         hoverinfo="skip", showlegend=False))

# axes
layout = {}
for i in range(1, 6):
    xa, ya = ax(i)
    top, bot = PANEL_Y[i - 1]
    xkey = "xaxis" if i == 1 else f"xaxis{i}"
    ykey = "yaxis" if i == 1 else f"yaxis{i}"
    layout[xkey] = dict(
        domain=[PLOT_X[0] / FIG_W, PLOT_X[1] / FIG_W], anchor=ya,
        range=[12, 15], tickvals=X_TICKS, ticktext=X_TICK_TEXT,
        ticks="inside", ticklen=25, tickwidth=3, tickcolor=DARK,
        showline=True, linecolor=DARK, linewidth=3, mirror=False,
        showgrid=False, zeroline=False, ticklabelstandoff=14,
        tickfont=dict(family=FONT, size=40, color=DARK),
        title=dict(text="UTC hours on 20250504", standoff=30,
                   font=dict(family=FONT, size=44, color=DARK)),
    )
    layout[ykey] = dict(
        domain=[1 - bot / FIG_H, 1 - top / FIG_H], anchor=xa,
        range=list(Y_RANGES[i - 1]), tickvals=Y_TICKS[i - 1],
        ticktext=Y_TICK_TEXT[i - 1],
        ticks="inside", ticklen=26, tickwidth=3, tickcolor=AX_BLUE,
        showline=True, linecolor=AX_BLUE, linewidth=3, mirror=True,
        showgrid=False, zeroline=False, ticklabelstandoff=26,
        tickfont=dict(family=FONT, size=40, color=AX_BLUE),
        title=dict(text=Y_TITLES[i - 1], standoff=24,
                   font=dict(family=FONT, size=44, color=AX_BLUE)),
    )

fig.update_layout(width=FIG_W, height=FIG_H, margin=dict(l=0, r=0, t=0, b=0),
                  paper_bgcolor="white", plot_bgcolor="white",
                  font=dict(family=FONT), showlegend=False, **layout)


# in-axes legends, MATLAB style (long line samples, transparent box)
def legend(x0, x1, xt, rows):
    for y, color, width, label in rows:
        py = 1 - y / FIG_H
        if color:
            fig.add_shape(type="line", xref="paper", yref="paper",
                          x0=x0 / FIG_W, x1=x1 / FIG_W, y0=py, y1=py,
                          line=dict(color=color, width=width), layer="above")
        fig.add_annotation(xref="paper", yref="paper", x=xt / FIG_W, y=py,
                           text=label, showarrow=False, xanchor="left",
                           yanchor="middle",
                           font=dict(family=FONT, size=38, color="black"))


legend(1939, 2175, 2196, [(990, C_2C, 4, "MWR 2C (tan = wet window)"),
                          (1048, C_3C, 4, "MWR 3C"),
                          (1107, C_PHY, 8, "Phy-Iter")])
legend(1149, 1384, 1406, [(1816, C_2C, 4, "MWR2C"),
                          (1875, C_3C, 4, "MWR 3C"),
                          (1933, C_PHY, 8, "Phy-Iter")])
legend(1332, 1564, 1586, [(3113, C_2C, 4, "MWR 2C PWV"),
                          (3170, C_3C, 4, "MWR 3C PWV"),
                          (3228, None, 0, "Phy-Iter PWV"),
                          (3284, C_PHY, 8, "(tan = MWR 2C only)"),
                          (3340, None, 0, "(brown = MWR 3C only)")])
legend(2300, 2532, 2556, [(3737, C_2C, 4, "MWR 2C LWP"),
                          (3795, C_3C, 4, "MWR 3C LWP"),
                          (3852, C_PHY, 8, "Phy-Iter LWP"),
                          (3910, C_ADIA, 4, "Adiabatic LWP")])

fig.write_html("out.html")
